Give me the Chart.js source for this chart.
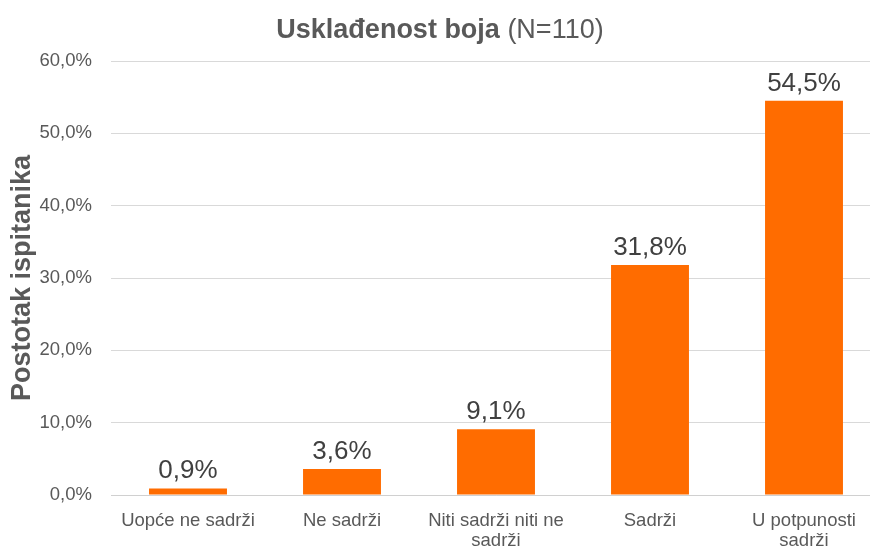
<!DOCTYPE html>
<html>
<head>
<meta charset="utf-8">
<script src="https://cdn.jsdelivr.net/npm/chart.js@4"></script>
<style>
  html, body { margin: 0; padding: 0; background: #fff; overflow: hidden; }
  #wrap { width: 870px; height: 547px; overflow: hidden; }
</style>
</head>
<body>
<div id="wrap"><canvas id="bojeChart" width="885" height="547"></canvas></div>
<script>
const categories = ['Uopće ne sadrži', 'Ne sadrži', ['Niti sadrži niti ne', 'sadrži'], 'Sadrži', ['U potpunosti', 'sadrži']];
const percentages = [0.9, 3.6, 9.1, 31.8, 54.5];
const yTicks = [0, 10, 20, 30, 40, 50, 60];

const FONT = '"Liberation Sans", Arial, Helvetica, sans-serif';
const fmt = (v, d) => v.toFixed(d).replace('.', ',') + '%';

// Naslov s podebljanim i običnim dijelom
const titlePlugin = {
    id: 'mixedTitle',
    afterDraw(chart) {
        const ctx = chart.ctx;
        const boldPart = 'Usklađenost boja ';
        const plainPart = '(N=110)';
        ctx.save();
        ctx.fillStyle = '#595959';
        ctx.textBaseline = 'alphabetic';
        ctx.font = 'bold 27px ' + FONT;
        const w1 = ctx.measureText(boldPart).width;
        ctx.font = '27px ' + FONT;
        const w2 = ctx.measureText(plainPart).width;
        const x = 440 - (w1 + w2) / 2;
        ctx.textAlign = 'left';
        ctx.font = 'bold 27px ' + FONT;
        ctx.fillText(boldPart, x, 38);
        ctx.font = '27px ' + FONT;
        ctx.fillText(plainPart, x + w1, 38);
        ctx.restore();
    }
};

// Vrijednosti iznad stupaca
const valueLabels = {
    id: 'valueLabels',
    afterDatasetsDraw(chart) {
        const ctx = chart.ctx;
        const meta = chart.getDatasetMeta(0);
        ctx.save();
        ctx.font = '26px ' + FONT;
        ctx.fillStyle = '#404040';
        ctx.textAlign = 'center';
        ctx.textBaseline = 'alphabetic';
        meta.data.forEach((bar, i) => {
            ctx.fillText(fmt(percentages[i], 1), bar.x, bar.y - 10);
        });
        ctx.restore();
    }
};

const ctx = document.getElementById('bojeChart').getContext('2d');
const bojeChart = new Chart(ctx, {
    type: 'bar',
    data: {
        labels: categories,
        datasets: [{
            data: percentages,
            backgroundColor: '#FF6C00',
            borderWidth: 0,
            categoryPercentage: 1.0,
            barPercentage: 0.506
        }]
    },
    options: {
        responsive: false,
        animation: false,
        layout: { padding: { top: 61, right: 4, left: 6, bottom: 0 } },
        plugins: {
            legend: { display: false },
            tooltip: { enabled: false }
        },
        scales: {
            y: {
                min: 0,
                max: 60,
                afterBuildTicks: (scale) => { scale.ticks = yTicks.map(v => ({ value: v })); },
                afterFit: (scale) => { scale.width = 105; },
                ticks: {
                    padding: 19,
                    color: '#595959',
                    font: { size: 18.5, family: FONT },
                    callback: (v) => fmt(v, 1)
                },
                grid: { color: '#d9d9d9', lineWidth: 1, drawTicks: false },
                border: { display: false },
                title: {
                    display: true,
                    text: 'Postotak ispitanika',
                    color: '#595959',
                    font: { size: 27, weight: 'bold', family: FONT },
                    padding: { top: 0, bottom: 0 }
                }
            },
            x: {
                afterFit: (scale) => { scale.height = 52; },
                ticks: {
                    padding: 16,
                    color: '#595959',
                    maxRotation: 0,
                    autoSkip: false,
                    font: { size: 18.5, family: FONT, lineHeight: 1.08 }
                },
                grid: { display: false, drawTicks: false },
                border: { display: true, color: '#d0d0d0', width: 1 }
            }
        }
    },
    plugins: [titlePlugin, valueLabels]
});
</script>
</body>
</html>
